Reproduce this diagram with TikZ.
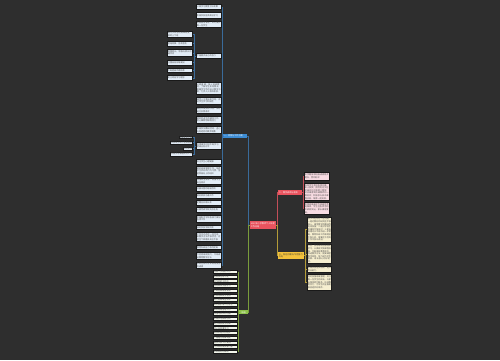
\documentclass[tikz,border=0pt]{standalone}
\usepackage{fontspec}
\setmainfont{Noto Sans CJK SC}
\XeTeXlinebreaklocale "zh"
\XeTeXlinebreakskip=0pt plus 0.5pt
\usetikzlibrary{positioning}
\definecolor{bgdark}{HTML}{2E2E2E}
\definecolor{bluefill}{HTML}{E2ECF6}
\definecolor{bluenode}{HTML}{3D8CD3}
\definecolor{rednode}{HTML}{E9535E}
\definecolor{pinkfill}{HTML}{F8DCE3}
\definecolor{yellownode}{HTML}{F4C23C}
\definecolor{yellowfill}{HTML}{F6EFD0}
\definecolor{greennode}{HTML}{8CC04A}
\definecolor{greenfill}{HTML}{F3F6EC}
\definecolor{wireblue}{HTML}{3A6B9A}
\definecolor{wirered}{HTML}{C24E58}
\definecolor{wireyellow}{HTML}{B39B38}
\definecolor{wiregreen}{HTML}{7A9C3C}

\begin{document}
\begin{tikzpicture}[x=1pt, y=-1pt,
    every node/.style={anchor=north west, inner xsep=0.6pt, inner ysep=0.3pt, align=left, font=\fontsize{2.1}{2.6}\selectfont},
    leafbox/.style={draw=black!90, line width=0.6pt, text=black!70},
    bluebox/.style={leafbox, fill=bluefill, text width=24.2pt},
    sidebox/.style={leafbox, fill=bluefill, anchor=north east},
    pinkbox/.style={leafbox, fill=pinkfill, text width=24.2pt},
    yellowbox/.style={leafbox, fill=yellowfill, text width=23.2pt},
    greenbox/.style={leafbox, fill=greenfill, text width=22.7pt, minimum height=3},
    topic/.style={draw=none, text=white},
    bwire/.style={draw=wireblue, line width=0.6pt},
    rwire/.style={draw=wirered, line width=0.6pt},
    ywire/.style={draw=wireyellow, line width=0.6pt},
    gwire/.style={draw=wiregreen, line width=0.6pt}
]
\fill[bgdark] (0,0) rectangle (500,360);

% centre and main branches
\node[topic, fill=rednode, text width=24.2pt, minimum height=8] (root) at (250,221) {2023年小学教师个人年度工作总结};
\node[topic, fill=bluenode, text width=22.8pt, minimum height=4.5] (blue) at (223,133.5) {一、思想与工作方面};
\node[topic, fill=rednode, text width=22.8pt, minimum height=5] (pink) at (278,189.5) {二、教学成绩与收获};
\node[topic, fill=yellownode, text=black!80, text width=24.8pt, minimum height=7] (yellow) at (278,252) {三、存在问题与今后努力方向};
\node[topic, fill=greennode, minimum width=9, minimum height=4] (green) at (239,310) {结语};

% blue branch
\node[bluebox, minimum height=4.7] (b1) at (196,4.3) {认真学习教育方针政策};
\node[bluebox, minimum height=5.2] (b2) at (196,12.3) {积极参加各类政治学习};
\node[bluebox, minimum height=5.8] (b3) at (196,20.7) {热爱教育事业，关心爱护每一位学生};
\node[bluebox, minimum height=5] (b4) at (196,53) {严格要求自己的言行};
\node[bluebox, minimum height=12.6] (b5) at (196,81.7) {认真备课，深入钻研教材，了解学生实际情况，根据学生特点设计教学方案，力求人人有所收获。};
\node[bluebox, minimum height=7.6] (b6) at (196,96.7) {课堂上注重启发引导，调动学生学习积极性};
\node[bluebox, minimum height=6] (b7) at (196,106.7) {课后认真批改作业，及时进行反馈讲评};
\node[bluebox, minimum height=7.6] (b8) at (196,115.7) {做好后进生的辅导工作，耐心细致地帮助他们};
\node[bluebox, minimum height=7] (b9) at (196,126.3) {积极参加教研活动，虚心向有经验的教师请教};
\node[bluebox, minimum height=7] (b10) at (196,142) {利用课余时间不断学习，提高业务水平};
\node[bluebox, minimum height=5] (b11) at (196,159) {关注学生心理健康};
\node[bluebox, minimum height=9.7] (b12) at (196,166) {做好班级管理工作，培养学生良好的行为习惯，营造积极向上的班风};
\node[bluebox, minimum height=5.7] (b13) at (196,178.3) {加强安全教育，增强学生安全意识};
\node[bluebox, minimum height=5] (b14) at (196,186) {开展丰富的班级活动};
\node[bluebox, minimum height=4.7] (b15) at (196,193.3) {做好家校沟通工作};
\node[bluebox, minimum height=4.7] (b16) at (196,200) {定期召开家长会};
\node[bluebox, minimum height=4.7] (b17) at (196,207.3) {认真完成学校交办任务};
\node[bluebox, minimum height=7.3] (b18) at (196,214.7) {积极配合学校各部门做好各项工作};
\node[bluebox, minimum height=4.6] (b19) at (196,224.7) {按时参加学校例会};
\node[bluebox, minimum height=9.6] (b20) at (196,231.7) {工作中也存在一些不足，如教学方法不够灵活，对学生个体差异关注不够};
\node[bluebox, minimum height=4.6] (b21) at (196,244.7) {教育科研能力有待提高};
\node[bluebox, minimum height=7.3] (b22) at (196,252) {今后将继续努力，不断改进教育教学方法};
\node[bluebox, minimum height=6.5] (b23) at (196,261.5) {争取在新的学年取得更好的成绩};

\node[bluebox, minimum height=5.7] (l1) at (167,31) {遵守学校各项规章制度，按时上下班};
\node[bluebox, minimum height=5] (l2) at (167,40.7) {团结同事，互帮互助};
\node[bluebox, minimum height=6.4] (l3) at (167,49.3) {尊重家长，积极与家长沟通交流};
\node[bluebox, minimum height=5.3] (l4) at (167,59.7) {注重自身形象建设};
\node[bluebox, minimum height=4.3] (l5) at (167,68) {不断提高师德修养};
\node[bluebox, minimum height=4.4] (l6) at (167,75.3) {树立终身学习理念};

\node[sidebox, minimum height=2.8] (m1) at (193,135.5) {阅读教育专著};
\node[sidebox, minimum height=3] (m2) at (193,140.5) {参加线上线下各类培训};
\node[sidebox, minimum height=3] (m3) at (193,146.5) {撰写反思};
\node[sidebox, minimum height=4.3] (m4) at (193,151.7) {积极参与课题研究工作};

% red branch
\node[pinkbox, minimum height=8] (p1) at (304,172) {本学期所带班级成绩稳步提升，受到好评};
\node[pinkbox, minimum height=17] (p2) at (304,183) {指导学生参加各类比赛，多人获奖；撰写的论文在区级评比中获得二等奖；公开课得到听课教师的一致好评；积极参与校本课程开发，取得一定成效。};
\node[pinkbox, minimum height=12] (p3) at (304,202) {所带班级被评为校级优秀班集体，学生在各项活动中表现突出，家长满意度高。};

% yellow branch
\node[yellowbox, minimum height=25] (y1) at (307,216.7) {教学中还存在一些问题：一是对教材的研究还不够深入，课堂教学的趣味性有待加强；二是对学困生的辅导不够及时；三是自身理论水平有待进一步提高，教育科研工作做得还不够扎实，需要在今后的工作中加以改进。};
\node[yellowbox, minimum height=19] (y2) at (307,244) {今后，我将继续加强理论学习，认真研究新课程标准，不断更新教育观念，改进教学方法，提高课堂教学效率，努力成为学生喜爱、家长放心的好老师。};
\node[yellowbox, minimum height=6] (y3) at (307,266) {积极参加各类培训，提升专业能力。};
\node[yellowbox, minimum height=16] (y4) at (307,274) {同时加强班级管理，关注每一位学生的成长，与家长保持密切联系，形成教育合力，为学生的全面发展创造良好条件。};

% green branch
\node[greenbox] (g1) at (213,270) {回顾一学期的工作};
\node[greenbox] (g2) at (213,274.7) {有收获也有不足};
\node[greenbox] (g3) at (213,279.4) {在今后的工作中};
\node[greenbox] (g4) at (213,284.1) {我将继续加强学习};
\node[greenbox] (g5) at (213,288.8) {不断提高自身素质};
\node[greenbox] (g6) at (213,293.5) {认真钻研教学业务};
\node[greenbox] (g7) at (213,298.2) {努力提高课堂效率};
\node[greenbox] (g8) at (213,302.9) {关心爱护每一位学生};
\node[greenbox] (g9) at (213,307.6) {做好班级管理工作};
\node[greenbox] (g10) at (213,312.3) {加强与家长的沟通};
\node[greenbox] (g11) at (213,317) {积极参与教研活动};
\node[greenbox] (g12) at (213,321.7) {勇于探索教学改革};
\node[greenbox] (g13) at (213,326.4) {虚心向同事学习};
\node[greenbox] (g14) at (213,331.1) {取长补短共同进步};
\node[greenbox] (g15) at (213,335.8) {严格遵守规章制度};
\node[greenbox] (g16) at (213,340.5) {服从学校工作安排};
\node[greenbox] (g17) at (213,345.2) {为学校发展贡献力量};
\node[greenbox] (g18) at (213,349.9) {争取更好的成绩};

% connectors
\draw[bwire] (root.west) -- ++(-2,0) |- (blue.east);
\draw[gwire] (root.west) -- ++(-2,0) |- (green.east);
\draw[rwire] (root.east) -- ++(1.5,0) |- (pink.west);
\draw[ywire] (root.east) -- ++(1.5,0) |- (yellow.west);

\draw[bwire] (blue.west) -- ++(-0.6,0) |- (b1.east);
\draw[bwire] (blue.west) -- ++(-0.6,0) |- (b2.east);
\draw[bwire] (blue.west) -- ++(-0.6,0) |- (b3.east);
\draw[bwire] (blue.west) -- ++(-0.6,0) |- (b4.east);
\draw[bwire] (blue.west) -- ++(-0.6,0) |- (b5.east);
\draw[bwire] (blue.west) -- ++(-0.6,0) |- (b6.east);
\draw[bwire] (blue.west) -- ++(-0.6,0) |- (b7.east);
\draw[bwire] (blue.west) -- ++(-0.6,0) |- (b8.east);
\draw[bwire] (blue.west) -- ++(-0.6,0) |- (b9.east);
\draw[bwire] (blue.west) -- ++(-0.6,0) |- (b10.east);
\draw[bwire] (blue.west) -- ++(-0.6,0) |- (b11.east);
\draw[bwire] (blue.west) -- ++(-0.6,0) |- (b12.east);
\draw[bwire] (blue.west) -- ++(-0.6,0) |- (b13.east);
\draw[bwire] (blue.west) -- ++(-0.6,0) |- (b14.east);
\draw[bwire] (blue.west) -- ++(-0.6,0) |- (b15.east);
\draw[bwire] (blue.west) -- ++(-0.6,0) |- (b16.east);
\draw[bwire] (blue.west) -- ++(-0.6,0) |- (b17.east);
\draw[bwire] (blue.west) -- ++(-0.6,0) |- (b18.east);
\draw[bwire] (blue.west) -- ++(-0.6,0) |- (b19.east);
\draw[bwire] (blue.west) -- ++(-0.6,0) |- (b20.east);
\draw[bwire] (blue.west) -- ++(-0.6,0) |- (b21.east);
\draw[bwire] (blue.west) -- ++(-0.6,0) |- (b22.east);
\draw[bwire] (blue.west) -- ++(-0.6,0) |- (b23.east);

\draw[bwire] (b4.west) -- ++(-1.3,0) |- (l1.east);
\draw[bwire] (b4.west) -- ++(-1.3,0) |- (l2.east);
\draw[bwire] (b4.west) -- ++(-1.3,0) |- (l3.east);
\draw[bwire] (b4.west) -- ++(-1.3,0) |- (l4.east);
\draw[bwire] (b4.west) -- ++(-1.3,0) |- (l5.east);
\draw[bwire] (b4.west) -- ++(-1.3,0) |- (l6.east);

\draw[bwire] (b10.west) -- ++(-1.3,0) |- (m1.east);
\draw[bwire] (b10.west) -- ++(-1.3,0) |- (m2.east);
\draw[bwire] (b10.west) -- ++(-1.3,0) |- (m3.east);
\draw[bwire] (b10.west) -- ++(-1.3,0) |- (m4.east);

\draw[rwire] (pink.east) -- ++(1,0) |- (p1.west);
\draw[rwire] (pink.east) -- ++(1,0) |- (p2.west);
\draw[rwire] (pink.east) -- ++(1,0) |- (p3.west);

\draw[ywire] (yellow.east) -- ++(1.2,0) |- (y1.west);
\draw[ywire] (yellow.east) -- ++(1.2,0) |- (y2.west);
\draw[ywire] (yellow.east) -- ++(1.2,0) |- (y3.west);
\draw[ywire] (yellow.east) -- ++(1.2,0) |- (y4.west);

\draw[gwire] (green.west) -- ++(-0.8,0) |- (g1.east);
\draw[gwire] (green.west) -- ++(-0.8,0) |- (g2.east);
\draw[gwire] (green.west) -- ++(-0.8,0) |- (g3.east);
\draw[gwire] (green.west) -- ++(-0.8,0) |- (g4.east);
\draw[gwire] (green.west) -- ++(-0.8,0) |- (g5.east);
\draw[gwire] (green.west) -- ++(-0.8,0) |- (g6.east);
\draw[gwire] (green.west) -- ++(-0.8,0) |- (g7.east);
\draw[gwire] (green.west) -- ++(-0.8,0) |- (g8.east);
\draw[gwire] (green.west) -- ++(-0.8,0) |- (g9.east);
\draw[gwire] (green.west) -- ++(-0.8,0) |- (g10.east);
\draw[gwire] (green.west) -- ++(-0.8,0) |- (g11.east);
\draw[gwire] (green.west) -- ++(-0.8,0) |- (g12.east);
\draw[gwire] (green.west) -- ++(-0.8,0) |- (g13.east);
\draw[gwire] (green.west) -- ++(-0.8,0) |- (g14.east);
\draw[gwire] (green.west) -- ++(-0.8,0) |- (g15.east);
\draw[gwire] (green.west) -- ++(-0.8,0) |- (g16.east);
\draw[gwire] (green.west) -- ++(-0.8,0) |- (g17.east);
\draw[gwire] (green.west) -- ++(-0.8,0) |- (g18.east);

\end{tikzpicture}
\end{document}
